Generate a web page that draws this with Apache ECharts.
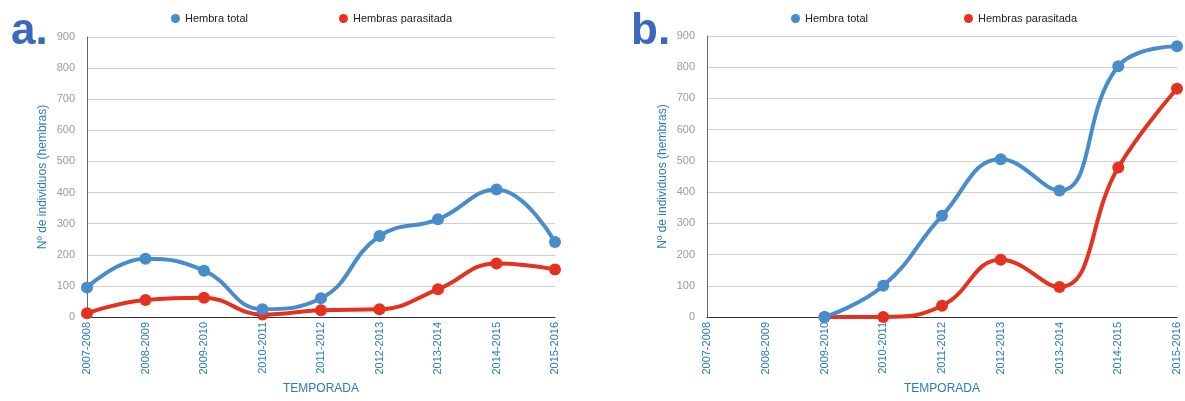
<!DOCTYPE html>
<html>
<head>
<meta charset="utf-8">
<script src="https://cdn.jsdelivr.net/npm/echarts@6/dist/echarts.min.js"></script>
<style>
  html, body { margin: 0; padding: 0; background: #fff; }
  #chart { width: 1185px; height: 401px; }
</style>
</head>
<body>
<div id="chart"></div>
<script>
// Seasons on the x axis (shared by both panels)
const temporadas = ['2007-2008', '2008-2009', '2009-2010', '2010-2011', '2011-2012',
                    '2012-2013', '2013-2014', '2014-2015', '2015-2016'];

// Panel a
const totalA = [95, 187, 149, 25, 60, 260, 314, 410, 241];
const parasitadaA = [12, 55, 62, 8, 22, 25, 89, 172, 153];

// Panel b (no records before 2009-2010)
const totalB = [null, null, 0, 100, 324, 505, 405, 803, 867];
const parasitadaB = [null, null, 0, 0, 36, 183, 96, 479, 731];

const yTicks = { min: 0, max: 900, interval: 100 };

const BLUE = '#478ccb';
const RED = '#e3321f';
const AXIS_BLUE = '#2b7bbd';
const FONT = 'Liberation Sans, Arial, sans-serif';

function xAxis(gridIndex) {
  return {
    type: 'category', gridIndex, data: temporadas, boundaryGap: false,
    name: 'TEMPORADA', nameLocation: 'middle', nameGap: 66,
    nameTextStyle: { color: AXIS_BLUE, fontSize: 12, fontFamily: FONT },
    axisLine: { lineStyle: { color: '#333', width: 1 } },
    axisTick: { show: false },
    axisLabel: { rotate: 90, color: AXIS_BLUE, fontSize: 11, fontFamily: FONT, margin: 5, interval: 0 },
    splitLine: { show: false }
  };
}

function yAxis(gridIndex) {
  return {
    type: 'value', gridIndex, min: yTicks.min, max: yTicks.max, interval: yTicks.interval,
    name: 'Nº de individuos (hembras)', nameLocation: 'middle', nameGap: 38,
    nameTextStyle: { color: AXIS_BLUE, fontSize: 12, fontFamily: FONT },
    axisLine: { show: true, lineStyle: { color: '#666', width: 1 } },
    axisTick: { show: false },
    axisLabel: { color: '#9a9a9a', fontSize: 11, fontFamily: FONT, margin: 12 },
    splitLine: { lineStyle: { color: '#cfcfcf', width: 1 } }
  };
}

function line(name, data, color, axisIndex, z) {
  return {
    name, type: 'line', data, xAxisIndex: axisIndex, yAxisIndex: axisIndex,
    smooth: 0.45, symbol: 'circle', symbolSize: 12, z,
    lineStyle: { color, width: 4 },
    itemStyle: { color },
    connectNulls: false
  };
}

function legend(left, gap) {
  return {
    left, top: 8, itemWidth: 9, itemHeight: 9, itemGap: gap, icon: 'circle',
    data: ['Hembra total', 'Hembras parasitada'],
    textStyle: { color: '#222', fontSize: 11, fontFamily: FONT },
    selectedMode: false
  };
}

const chart = echarts.init(document.getElementById('chart'), null, { renderer: 'canvas' });
chart.setOption({
  animation: false,
  backgroundColor: '#fff',
  grid: [
    { left: 87, right: 630, top: 37, bottom: 84 },
    { left: 707, right: 8, top: 36, bottom: 84 }
  ],
  legend: [legend(166, 91), legend(786, 96)],
  xAxis: [xAxis(0), xAxis(1)],
  yAxis: [yAxis(0), yAxis(1)],
  series: [
    line('Hembra total', totalA, BLUE, 0, 3),
    line('Hembras parasitada', parasitadaA, RED, 0, 2),
    line('Hembra total', totalB, BLUE, 1, 3),
    line('Hembras parasitada', parasitadaB, RED, 1, 2)
  ],
  graphic: [
    { type: 'text', left: 11, top: 10, style: { text: 'a.', fill: '#3a68bf', font: 'bold 44px ' + FONT } },
    { type: 'text', left: 631, top: 10, style: { text: 'b.', fill: '#3a68bf', font: 'bold 44px ' + FONT } }
  ]
});
</script>
</body>
</html>
